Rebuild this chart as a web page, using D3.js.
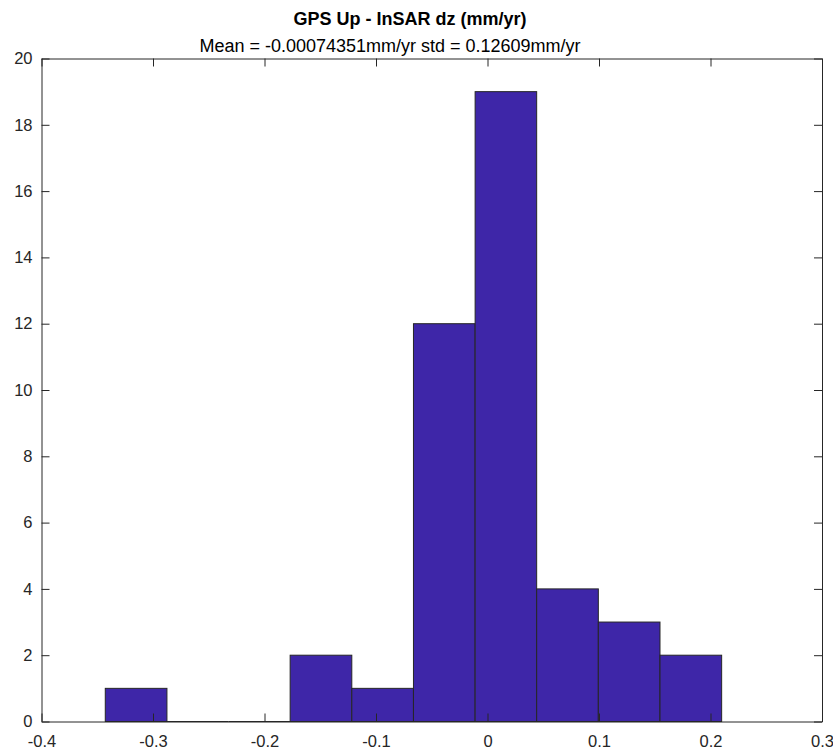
<!DOCTYPE html>
<html>
<head>
<meta charset="utf-8">
<script src="https://cdn.jsdelivr.net/npm/d3@7"></script>
<style>
  body { margin: 0; background: #fff; }
  svg { display: block; font-family: "Liberation Sans", Arial, sans-serif; }
</style>
</head>
<body>
<div id="chart"></div>
<script>
// histogram bin edges (mm/yr) and counts
const binEdges = [-0.3428, -0.2875, -0.2322, -0.1770, -0.1217, -0.0664, -0.0111, 0.0441, 0.0994, 0.1547, 0.2100];
const counts = [1, 0, 0, 2, 1, 12, 19, 4, 3, 2];
const xTicks = [-0.4, -0.3, -0.2, -0.1, 0, 0.1, 0.2, 0.3];
const xTickLabels = ["-0.4", "-0.3", "-0.2", "-0.1", "0", "0.1", "0.2", "0.3"];
const yTicks = [0, 2, 4, 6, 8, 10, 12, 14, 16, 18, 20];
const titleText = "GPS Up - InSAR dz (mm/yr)";
const subtitleText = "Mean = -0.00074351mm/yr std = 0.12609mm/yr";

const W = 833, H = 751;
const margin = {top: 58.5, right: 11, bottom: 29.5, left: 41.5},
    width = W - margin.left - margin.right,
    height = H - margin.top - margin.bottom;

const bins = counts.map((c, i) => ({x0: binEdges[i], x1: binEdges[i + 1], n: c}));

const svg = d3.select("#chart")
    .append("svg")
    .attr("width", W)
    .attr("height", H);

const g = svg.append("g")
    .attr("transform", `translate(${margin.left}, ${margin.top})`);

const x = d3.scaleLinear().domain([-0.4, 0.3]).range([0, width]);
const y = d3.scaleLinear().domain([0, 20]).range([height, 0]);

// bars
g.selectAll("rect.bar")
    .data(bins.filter(d => d.n > 0))
    .enter()
    .append("rect")
    .attr("class", "bar")
    .attr("x", d => x(d.x0))
    .attr("y", d => y(d.n))
    .attr("width", d => x(d.x1) - x(d.x0))
    .attr("height", d => y(0) - y(d.n))
    .attr("fill", "#3e26a8")
    .attr("stroke", "#262626")
    .attr("stroke-width", 1);

// zero-count bins leave an edge along the baseline
g.selectAll("line.zero")
    .data(bins.filter(d => d.n === 0))
    .enter()
    .append("line")
    .attr("x1", d => x(d.x0)).attr("x2", d => x(d.x1))
    .attr("y1", y(0)).attr("y2", y(0))
    .attr("stroke", "#262626");

// axes with inward ticks, mirrored on top/right
const tickLen = 8;
const fmtX = (d, i) => xTickLabels[i];

const xBottom = g.append("g")
    .attr("transform", `translate(0, ${height})`)
    .call(d3.axisBottom(x).tickValues(xTicks).tickFormat(fmtX).tickSizeInner(-tickLen).tickSizeOuter(0).tickPadding(14));
const xTop = g.append("g")
    .call(d3.axisTop(x).tickValues(xTicks).tickFormat("").tickSizeInner(-tickLen).tickSizeOuter(0));
const yLeft = g.append("g")
    .call(d3.axisLeft(y).tickValues(yTicks).tickFormat(d3.format("d")).tickSizeInner(-tickLen).tickSizeOuter(0).tickPadding(9));
const yRight = g.append("g")
    .attr("transform", `translate(${width}, 0)`)
    .call(d3.axisRight(y).tickValues(yTicks).tickFormat("").tickSizeInner(-tickLen).tickSizeOuter(0));

[xBottom, xTop, yLeft, yRight].forEach(a => {
    a.selectAll("path.domain").attr("stroke", "#262626");
    a.selectAll(".tick line").attr("stroke", "#262626");
    a.selectAll(".tick text")
        .attr("fill", "#262626")
        .style("font-size", "16.5px")
        .style("font-family", "'Liberation Sans', Arial, sans-serif");
});
xBottom.selectAll(".tick text").attr("dy", "0.71em");

// titles
svg.append("text")
    .attr("x", 410)
    .attr("y", 25)
    .attr("text-anchor", "middle")
    .style("font-size", "18px")
    .style("font-weight", "bold")
    .attr("fill", "#000")
    .text(titleText);

svg.append("text")
    .attr("x", 390)
    .attr("y", 52)
    .attr("text-anchor", "middle")
    .style("font-size", "18px")
    .attr("fill", "#000")
    .text(subtitleText);
</script>
</body>
</html>
